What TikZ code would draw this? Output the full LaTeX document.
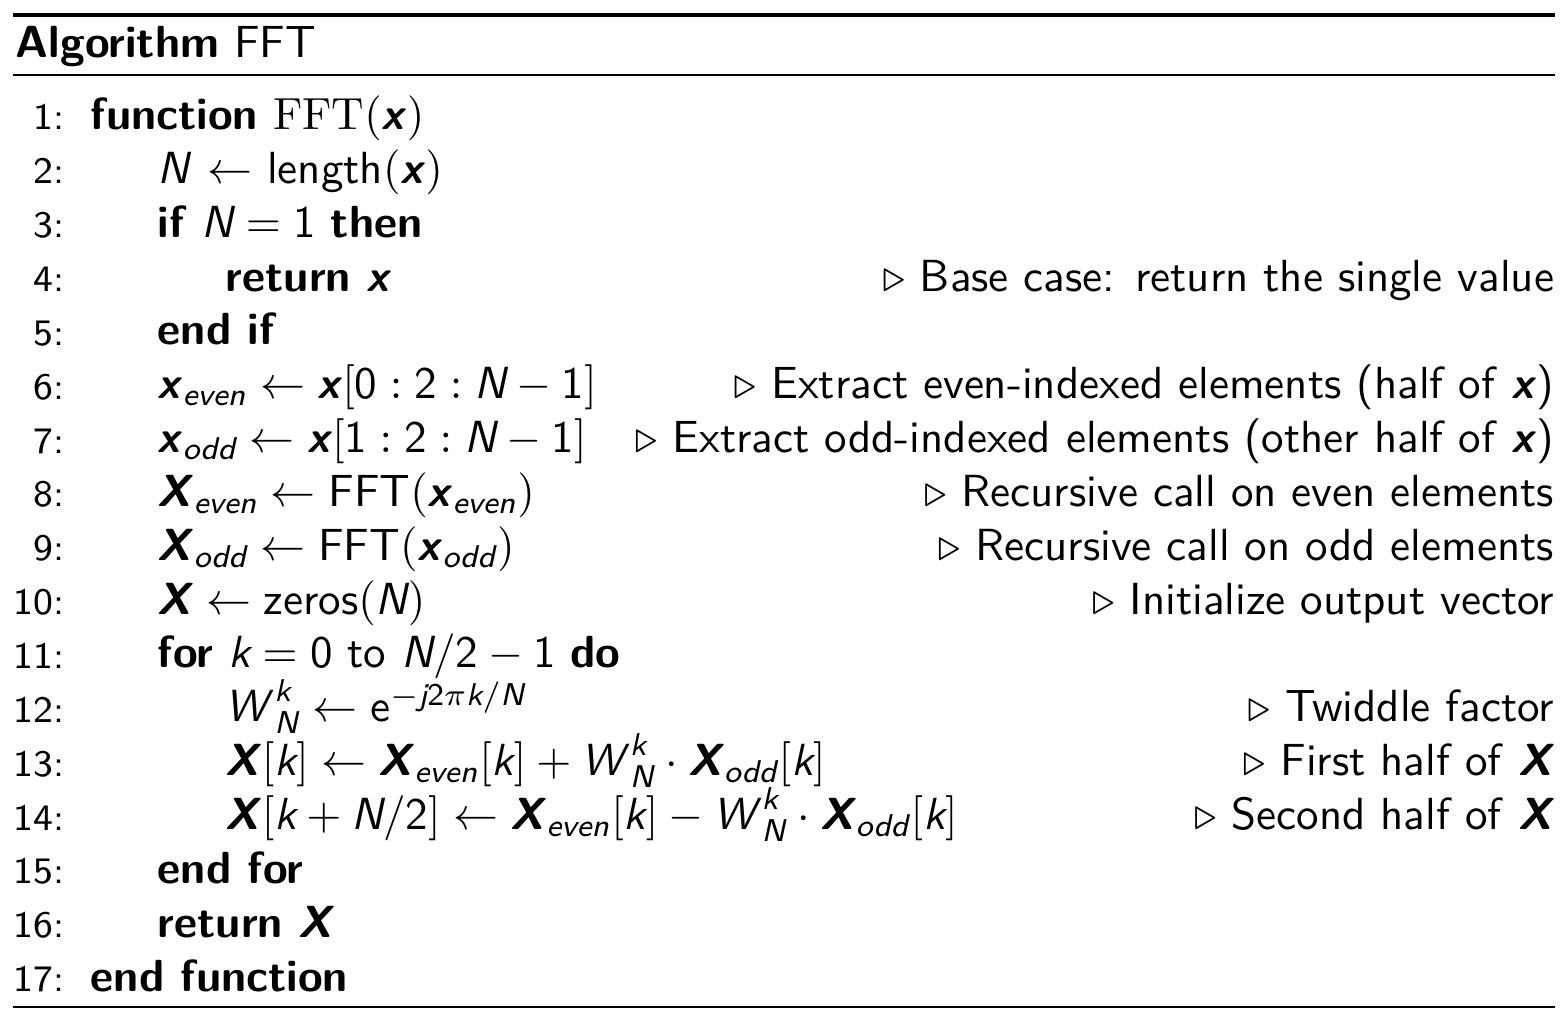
\documentclass[tikz,border=0pt]{standalone}
\usepackage{amsmath, amssymb}
\usepackage{fontspec}
\renewcommand{\familydefault}{\sfdefault}
\usepackage{tikz}
\usetikzlibrary{positioning}
% variables of the listing
\newcommand{\bx}{\textbf{\textit{x}}}
\newcommand{\bX}{\textbf{\textit{X\/}}}
\newcommand{\iv}[1]{\textit{#1}}
\newcommand{\dg}[1]{\text{#1}}
\newcommand{\getsto}{$\leftarrow$}
\newcommand{\twid}{\iv{W\/}^{\iv{k}}_{\iv{N}}}
\newcommand{\cm}{$\triangleright$\ }

\begin{document}
\begin{tikzpicture}[x=0.2222pt, y=-0.2222pt, font=\fontsize{10}{12}\selectfont,
    codeline/.style={anchor=base west, inner sep=0pt},
    cmnt/.style={anchor=base east, inner sep=0pt},
    lnum/.style={anchor=base east, inner sep=0pt, font=\fontsize{8.3}{10}\selectfont}]
    \useasboundingbox (0,0) rectangle (1564,1012);

    % Reglas
    \draw[line width=0.7pt] (13,15) -- (1555,15);
    \draw[line width=0.45pt] (13,75) -- (1555,75);
    \draw[line width=0.45pt] (13,1007) -- (1555,1007);
    \node[codeline] (title) at (15,58) {\textbf{Algorithm} FFT};

    % Numeros de linea
    \foreach \i in {1,...,17}
        \node[lnum] (n\i) at (65, {130+(\i-1)*53.85}) {\i:};

    % Codigo
    \node[codeline] (l1) at (90,130) {\textbf{function} {\rmfamily FFT}$($\bx$)$};
    \node[codeline] (l2) at (157,184) {\iv{N} \getsto{} length$($\bx$)$};
    \node[codeline] (l3) at (157,238) {\textbf{if} $\iv{N}=\dg{1}$ \textbf{then}};
    \node[codeline] (l4) at (225,292) {\textbf{return} \bx};
    \node[codeline] (l5) at (157,345) {\textbf{end if}};
    \node[codeline] (l6) at (157,399) {$\bx_{\iv{even}}\leftarrow\bx[\dg{0}:\dg{2}:\iv{N}-\dg{1}]$};
    \node[codeline] (l7) at (157,453) {$\bx_{\iv{odd}}\leftarrow\bx[\dg{1}:\dg{2}:\iv{N}-\dg{1}]$};
    \node[codeline] (l8) at (157,507) {$\bX_{\iv{even}}\leftarrow\dg{FFT}(\bx_{\iv{even}})$};
    \node[codeline] (l9) at (157,561) {$\bX_{\iv{odd}}\leftarrow\dg{FFT}(\bx_{\iv{odd}})$};
    \node[codeline] (l10) at (157,615) {$\bX\leftarrow\dg{zeros}(\iv{N})$};
    \node[codeline] (l11) at (157,668) {\textbf{for} $\iv{k}=\dg{0}$ to $\iv{N}/\dg{2}-\dg{1}$ \textbf{do}};
    \node[codeline] (l12) at (225,722) {$\twid\leftarrow\dg{e}^{-\iv{j}\dg{2}\pi\iv{k}/\iv{N}}$};
    \node[codeline] (l13) at (225,776) {$\bX[\iv{k}]\leftarrow\bX_{\iv{even}}[\iv{k}]+\twid\cdot\bX_{\iv{odd}}[\iv{k}]$};
    \node[codeline] (l14) at (225,830) {$\bX[\iv{k}+\iv{N}/\dg{2}]\leftarrow\bX_{\iv{even}}[\iv{k}]-\twid\cdot\bX_{\iv{odd}}[\iv{k}]$};
    \node[codeline] (l15) at (157,884) {\textbf{end for}};
    \node[codeline] (l16) at (157,938) {\textbf{return} \bX};
    \node[codeline] (l17) at (90,992) {\textbf{end function}};

    % Comentarios
    \node[cmnt] (c4) at (1555,292) {\cm Base case: return the single value};
    \node[cmnt] (c6) at (1555,399) {\cm Extract even-indexed elements (half of \bx)};
    \node[cmnt] (c7) at (1555,453) {\cm Extract odd-indexed elements (other half of \bx)};
    \node[cmnt] (c8) at (1555,507) {\cm Recursive call on even elements};
    \node[cmnt] (c9) at (1555,561) {\cm Recursive call on odd elements};
    \node[cmnt] (c10) at (1555,615) {\cm Initialize output vector};
    \node[cmnt] (c12) at (1555,722) {\cm Twiddle factor};
    \node[cmnt] (c13) at (1555,776) {\cm First half of \bX};
    \node[cmnt] (c14) at (1555,830) {\cm Second half of \bX};
\end{tikzpicture}
\end{document}
